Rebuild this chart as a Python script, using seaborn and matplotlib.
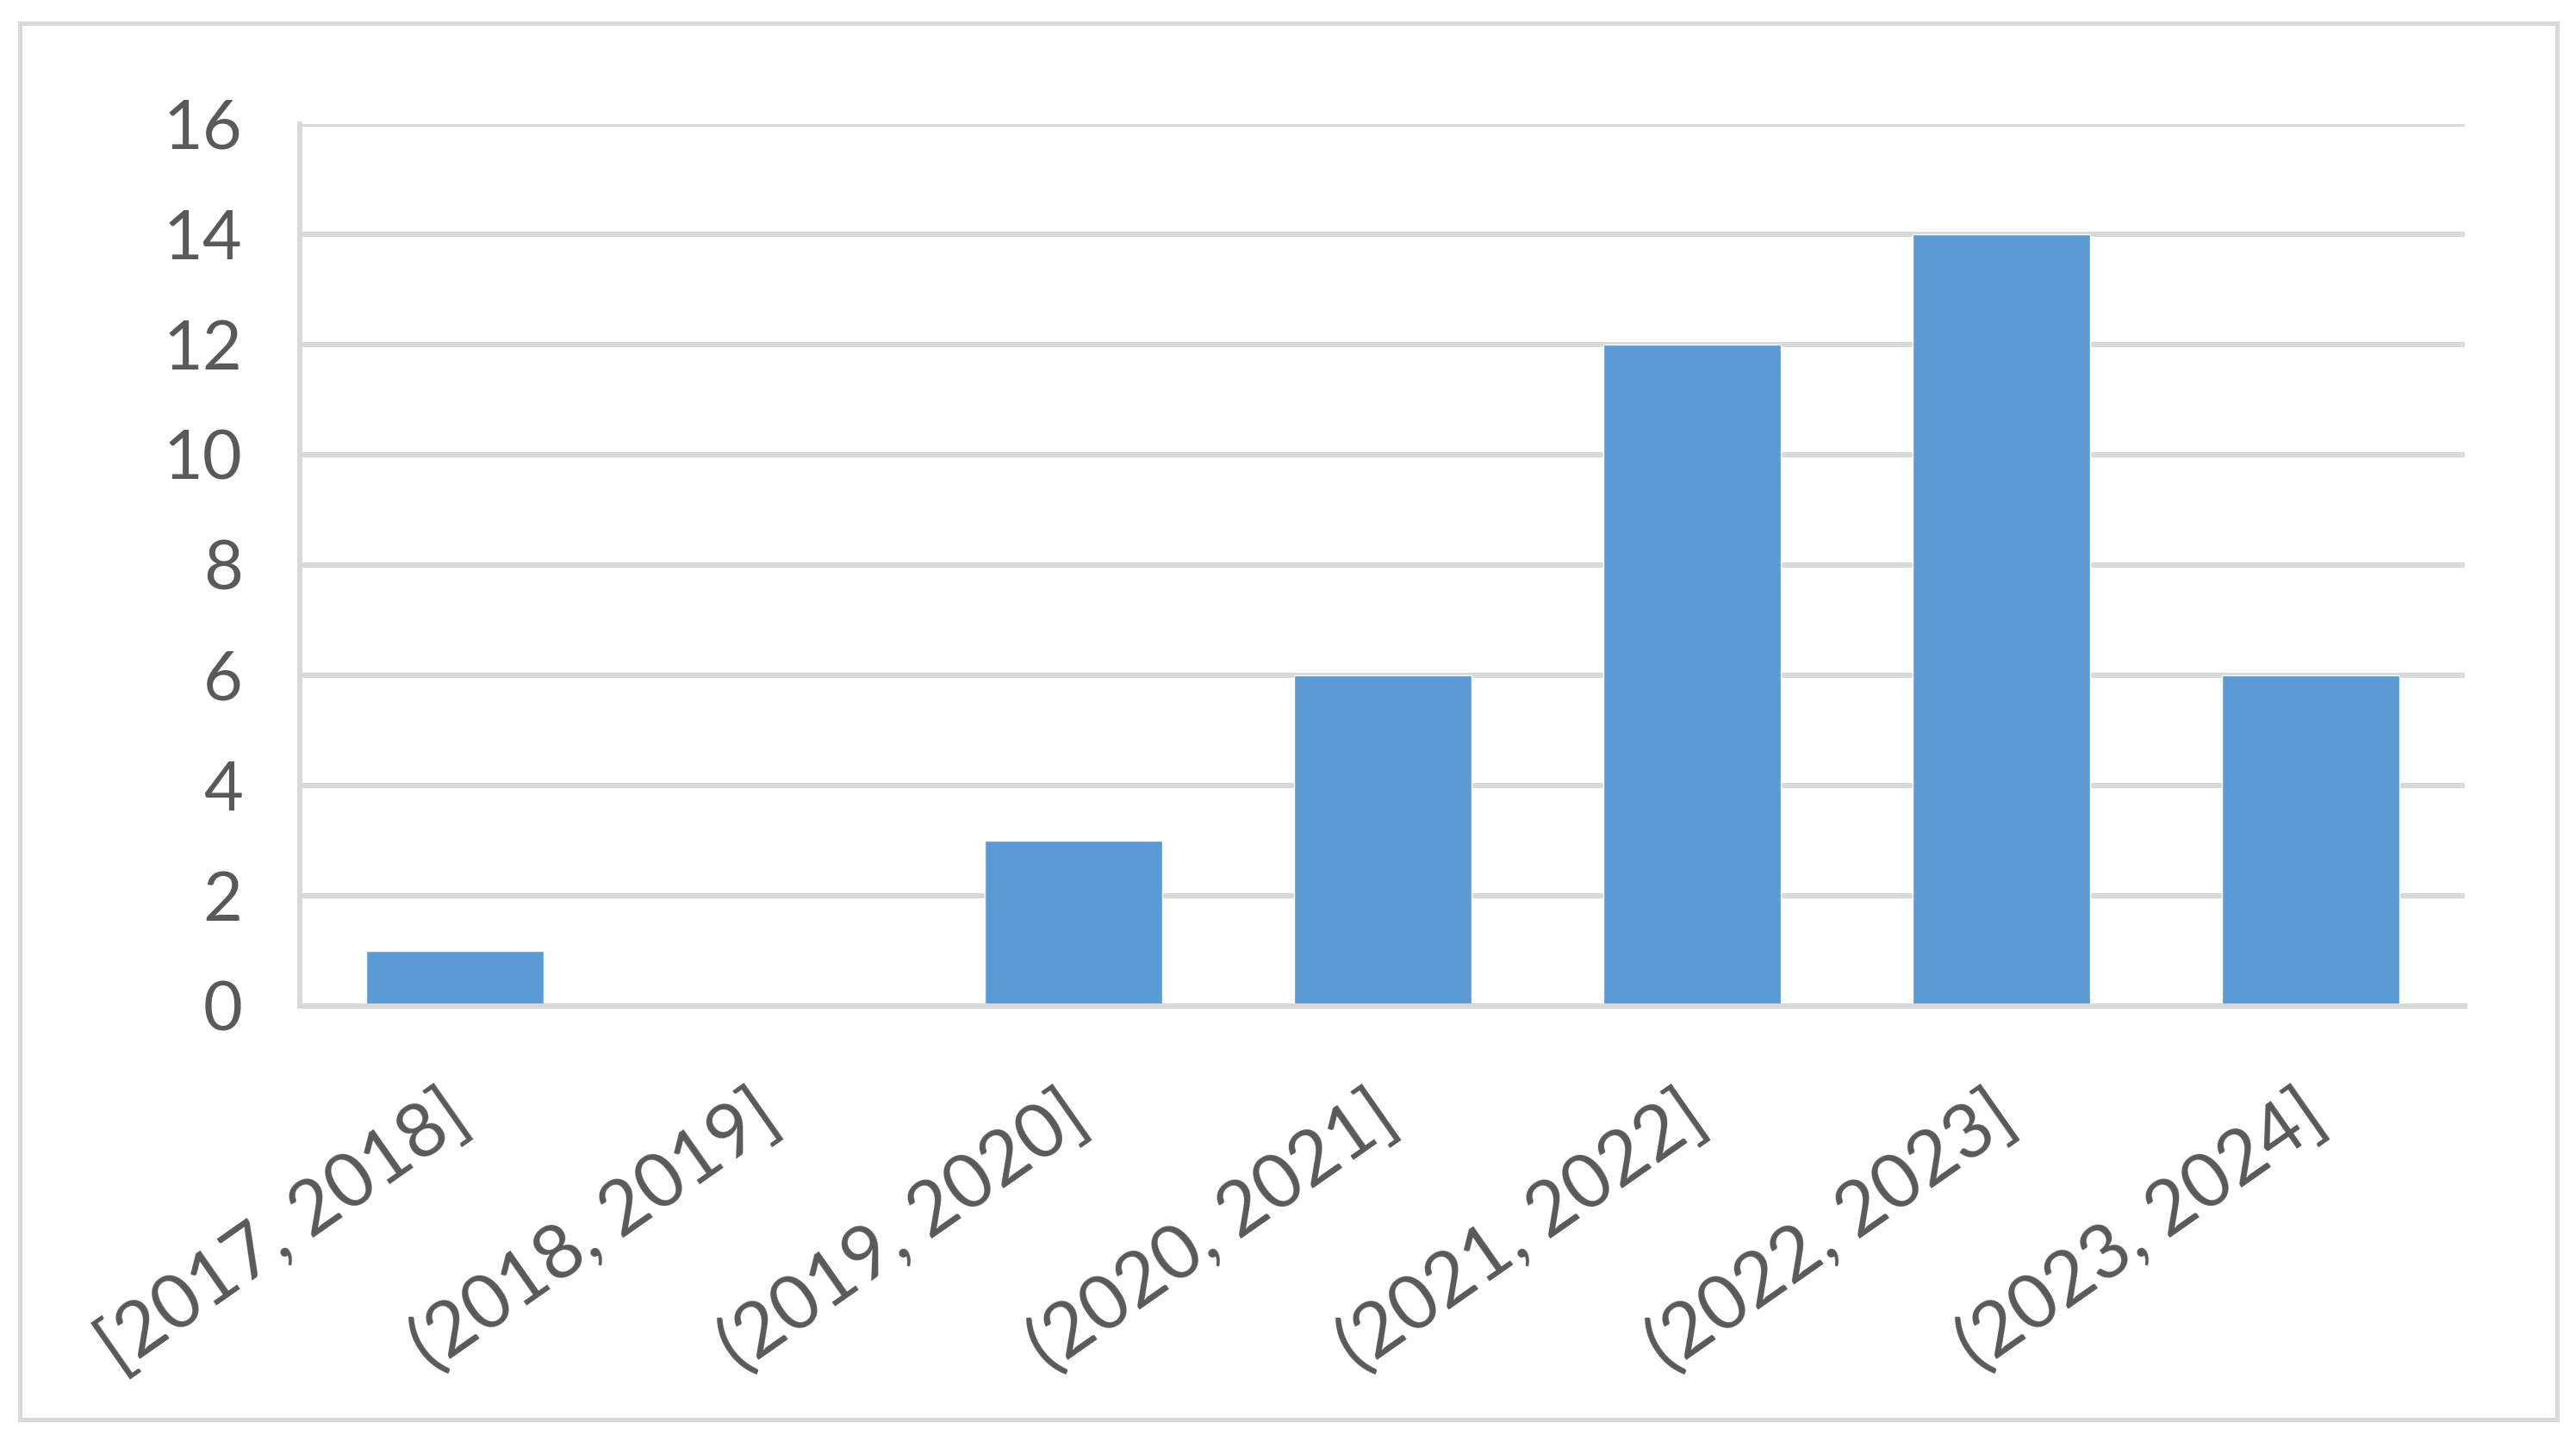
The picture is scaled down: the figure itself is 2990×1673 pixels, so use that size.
import matplotlib
matplotlib.use("Agg")
import matplotlib.pyplot as plt
import matplotlib.patches as patches
import matplotlib.transforms as mtransforms
import seaborn as sns
import pandas as pd

# data
periods = ["[2017, 2018]", "(2018, 2019]", "(2019, 2020]", "(2020, 2021]",
           "(2021, 2022]", "(2022, 2023]", "(2023, 2024]"]
counts = [1, 0, 3, 6, 12, 14, 6]
y_ticks = [0, 2, 4, 6, 8, 10, 12, 14, 16]

bar_color = "#5B9BD5"
grid_color = "#D9D9D9"
text_color = "#595959"

sns.set_theme(style="white")
plt.rcParams["font.family"] = ["Lato", "DejaVu Sans"]

df = pd.DataFrame({"period": periods, "count": counts})

fig = plt.figure(figsize=(29.9, 16.73), dpi=100)
ax = fig.add_axes([0.1165, 0.302, 0.8405, 0.612])

sns.barplot(data=df, x="period", y="count", color=bar_color, width=0.575,
            saturation=1, ax=ax, zorder=3)

ax.set_ylim(0, 16)
ax.set_xlim(-0.5, len(periods) - 0.5)
ax.set_yticks(y_ticks)
ax.yaxis.grid(True, color=grid_color, linewidth=4.3, zorder=0)
ax.set_axisbelow(True)

for side in ["top", "right"]:
    ax.spines[side].set_visible(False)
for side in ["left", "bottom"]:
    ax.spines[side].set_color(grid_color)
    ax.spines[side].set_linewidth(4.3)
    ax.spines[side].set_zorder(4)

ax.set_xlabel("")
ax.set_ylabel("")
ax.tick_params(axis="y", length=0, pad=48, labelsize=57, labelcolor=text_color)
ax.tick_params(axis="x", length=0, pad=62, labelsize=63, labelcolor=text_color)
shift = mtransforms.ScaledTranslation(-0.16, 0, fig.dpi_scale_trans)
for lbl in ax.get_xticklabels():
    lbl.set_rotation(35)
    lbl.set_ha("right")
    lbl.set_va("top")
    lbl.set_rotation_mode("anchor")
    lbl.set_transform(lbl.get_transform() + shift)

# light frame around the whole chart
frame = patches.Rectangle((0.0077, 0.0148), 0.985, 0.969, transform=fig.transFigure,
                          fill=False, edgecolor=grid_color, linewidth=3.6)
fig.patches.append(frame)

fig.savefig("out.png", dpi=100, facecolor="white")
